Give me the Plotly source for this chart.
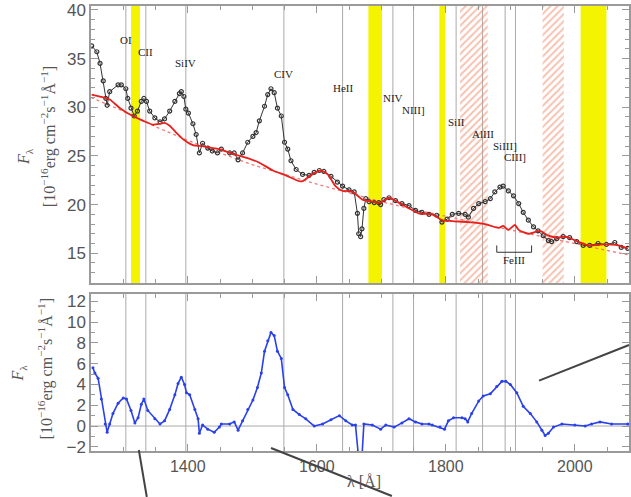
import plotly.graph_objects as go

# ---------------- data ----------------
spec_wl = [1251,1259,1264,1269,1273,1275,1279,1292,1297,1304,1307,1312,1317,1322,1328,1332,1336,1341,1349,1357,
           1364,1372,1380,1387,1390,1394,1397,1401,1408,1413,1418,1423,1431,1438,1446,1452,1465,1472,1478,1485,
           1493,1501,1506,1511,1519,1524,1529,1534,1539,1545,1550,1555,1560,1568,1578,1588,1596,1604,1611,1622,
           1632,1640,1650,1658,1663,1665,1668,1670,1673,1676,1681,1689,1696,1699,1704,1712,1722,1732,1743,1753,
           1763,1774,1786,1794,1802,1810,1820,1830,1835,1843,1851,1861,1869,1876,1884,1889,1897,1905,1913,1920,
           1928,1936,1943,1951,1959,1964,1972,1982,1992,2003,2013,2023,2036,2049,2062,2072,2082]
spec_flux = [36.3,35.7,34.5,32.7,30.9,30.2,31.6,32.3,32.3,31.9,30.9,29.9,29.1,29.6,30.6,30.9,30.6,29.6,28.9,28.5,
             28.8,29.6,30.6,31.4,31.6,31.1,29.8,29.4,28.3,27.2,25.3,26.3,25.8,25.5,25.3,25.7,25.3,25.3,24.6,25.3,
             26.4,27.0,27.4,28.6,30.1,31.3,31.9,31.5,29.9,29.1,26.4,25.7,24.5,23.6,23.1,23.0,23.3,23.5,23.4,22.9,
             22.3,21.9,21.5,21.3,19.1,17.0,16.7,17.5,19.6,20.6,20.3,20.2,20.2,20.0,20.5,20.7,20.4,20.1,19.9,19.4,
             19.2,19.0,18.9,18.2,18.5,19.0,19.1,19.0,18.7,19.6,20.1,20.3,20.6,21.3,21.8,21.9,21.4,20.9,20.1,19.2,
             18.4,17.7,17.3,16.8,16.3,16.2,16.5,16.7,16.6,16.2,15.8,15.8,16.0,15.9,16.1,15.6,15.5]

model_wl = [1251,1264,1279,1295,1315,1331,1346,1357,1364,1372,1382,1395,1408,1423,1439,1449,1470,1496,1511,1532,
            1552,1573,1578,1593,1606,1617,1629,1640,1650,1658,1671,1686,1699,1712,1727,1743,1758,1779,1794,1810,
            1835,1861,1882,1889,1897,1907,1913,1928,1946,1959,1974,1985,2005,2021,2046,2067,2082]
model_flux = [31.3,31.1,30.8,29.9,29.1,28.6,28.2,28.3,28.4,28.1,27.4,26.6,26.1,26.0,25.8,25.7,25.2,24.7,24.3,23.5,
              23.0,22.4,22.4,23.1,23.5,23.1,21.9,21.4,21.4,21.2,20.5,20.3,20.2,20.7,20.2,19.6,19.1,19.0,18.4,18.3,
              18.2,18.0,17.6,17.8,17.4,17.9,17.4,17.0,17.3,16.8,16.6,16.7,16.2,15.8,15.9,15.8,15.5]

pl_wl = [1250,1300,1350,1400,1450,1500,1550,1600,1650,1700,1750,1800,1850,1900,1950,2000,2050,2085]
pl_flux = [31.0,29.6,28.0,26.6,25.3,24.1,23.1,22.1,21.2,20.3,19.5,18.8,18.1,17.4,16.7,16.0,15.3,14.8]

res_wl = [1253,1256,1261,1266,1272,1275,1279,1284,1292,1300,1305,1312,1318,1323,1328,1332,1338,1349,1357,1364,
          1372,1380,1385,1390,1395,1398,1403,1411,1416,1418,1423,1431,1441,1449,1452,1465,1472,1478,1485,1493,
          1501,1508,1514,1519,1524,1529,1534,1539,1545,1550,1555,1563,1573,1583,1596,1609,1622,1635,1645,1655,
          1660,1663,1666,1670,1673,1686,1699,1707,1720,1732,1743,1753,1763,1774,1779,1791,1798,1804,1812,1825,
          1830,1834,1840,1851,1858,1869,1879,1887,1893,1900,1910,1920,1931,1941,1949,1954,1959,1967,1980,2000,
          2016,2026,2039,2057,2082]
res_flux = [5.6,5.1,4.6,2.6,0.2,-0.6,0.2,1.2,2.2,2.7,2.6,1.5,0.3,0.8,2.1,2.6,1.5,0.7,0.2,0.5,
            1.6,3.0,4.1,4.7,4.0,3.2,3.0,1.6,0.7,-0.7,0.1,-0.3,-0.6,-0.1,0.2,0.2,0.4,-0.4,0.5,1.6,
            2.5,3.7,5.1,7.2,8.2,9.0,8.7,7.2,6.5,3.7,3.0,1.6,1.1,0.7,0.0,0.2,0.6,1.0,0.5,0.1,
            0.1,-2.5,-3.8,-3.0,0.2,0.1,-0.3,0.1,-0.1,0.3,0.7,0.4,0.2,0.2,0.1,-0.1,-0.3,0.5,0.8,0.8,
            0.7,0.4,1.2,2.4,2.9,3.1,3.8,4.3,4.3,4.0,3.2,1.9,1.2,0.4,-0.4,-0.9,-0.7,-0.1,0.2,0.1,
            0.0,0.2,0.4,0.2,0.2]

line_names = ["OI", "CII", "SiIV", "CIV", "HeII", "NIV", "NIII]", "SiII", "AlIII", "SiIII]", "CIII]"]
line_wl = [1304, 1335, 1397, 1549, 1640, 1718, 1750, 1816, 1857, 1892, 1908]
label_y = [36.9, 35.7, 34.5, 33.4, 32.0, 30.9, 29.7, 28.5, 27.2, 26.0, 24.9]

yellow_bands = [(1312, 1326), (1680, 1701), (1790, 1799), (2009, 2049)]
hatch_bands = [(1822, 1865), (1950, 1983)]

feiii_range = (1879, 1933)

XR = [1250, 2084]
Y1R = [11.94, 40.4]
Y2R = [-2.4, 12.7]

fig = go.Figure()

# hatched bands (bar trace with pattern)
fig.add_trace(go.Bar(
    x=[(a + b) / 2 for a, b in hatch_bands],
    y=[Y1R[1] - Y1R[0]] * len(hatch_bands),
    base=[Y1R[0]] * len(hatch_bands),
    width=[b - a for a, b in hatch_bands],
    marker=dict(color="rgba(0,0,0,0)", line=dict(width=0),
                pattern=dict(shape="/", fgcolor="#ee8462", bgcolor="rgba(0,0,0,0)",
                             size=5, solidity=0.4)),
    xaxis="x", yaxis="y", hoverinfo="skip", showlegend=False))

fig.add_trace(go.Scatter(x=pl_wl, y=pl_flux, mode="lines",
                         line=dict(color="#f07a7a", width=1.3, dash="dot"),
                         xaxis="x", yaxis="y", showlegend=False))
fig.add_trace(go.Scatter(x=spec_wl, y=spec_flux, mode="lines+markers",
                         line=dict(color="#333333", width=1),
                         marker=dict(symbol="circle-open", size=4, color="#333333", line=dict(width=1.2)),
                         xaxis="x", yaxis="y", showlegend=False))
fig.add_trace(go.Scatter(x=model_wl, y=model_flux, mode="lines",
                         line=dict(color="#e8201c", width=1.8, shape="spline", smoothing=0.6),
                         xaxis="x", yaxis="y", showlegend=False))
fig.add_trace(go.Scatter(x=res_wl, y=res_flux, mode="lines+markers",
                         line=dict(color="#2a40e8", width=1.6),
                         marker=dict(symbol="circle", size=3, color="#2a40e8"),
                         xaxis="x2", yaxis="y2", showlegend=False))

shapes = []
for a, b in yellow_bands:
    shapes.append(dict(type="rect", xref="x", yref="y domain", x0=a, x1=b, y0=0, y1=1,
                       fillcolor="#f4f400", line=dict(width=0), layer="below"))
for w in line_wl:
    for ya in ["y domain", "y2 domain"]:
        xr = "x" if ya == "y domain" else "x2"
        shapes.append(dict(type="line", xref=xr, yref=ya, x0=w, x1=w, y0=0, y1=1,
                           line=dict(color="#aaaaaa", width=1), layer="below"))
shapes.append(dict(type="line", xref="x2 domain", yref="y2", x0=0, x1=1, y0=0, y1=0,
                   line=dict(color="#aaaaaa", width=1), layer="below"))
# FeIII bracket
fa, fb = feiii_range
shapes.append(dict(type="path", xref="x", yref="y",
                   path=f"M {fa},15.8 L {fa},15.1 L {fb},15.1 L {fb},15.8",
                   line=dict(color="#333333", width=1)))
# decorative pointer lines (outside the axes)
for (x0, y0, x1, y1) in [(0.0889, 0.0022, 0.1037, -0.1034),
                         (0.3346, 0.0067, 0.5593, -0.1011),
                         (0.8328, 0.1580, 1.0000, 0.2382)]:
    shapes.append(dict(type="line", xref="paper", yref="paper", x0=x0, y0=y0, x1=x1, y1=y1,
                       line=dict(color="#444444", width=2), layer="above"))

annotations = []
for name, w, yy in zip(line_names, line_wl, label_y):
    annotations.append(dict(text=name, x=w, y=yy, xref="x", yref="y", showarrow=False,
                            font=dict(family="Liberation Serif", size=11, color="#222")))
annotations.append(dict(text="FeIII", x=(fa + fb) / 2, y=14.3, xref="x", yref="y", showarrow=False,
                        font=dict(family="Liberation Serif", size=11, color="#222")))

unit = "[10<sup>−16</sup>erg cm<sup>−2</sup>s<sup>−1</sup>Å<sup>−1</sup>]"
tfont = dict(family="Liberation Serif", size=16, color="#555")
ffont = dict(family="Liberation Serif", size=16, color="#555")
for (txt, xx, yy, fnt) in [("<i>F</i><sub>λ</sub>", -0.1222, 0.661, ffont),
                           (unit, -0.0796, 0.7056, tfont),
                           ("<i>F</i><sub>λ</sub>", -0.135, 0.175, ffont),
                           (unit, -0.085, 0.184, tfont)]:
    annotations.append(dict(text=txt, x=xx, y=yy, xref="paper", yref="paper", textangle=-90,
                            xanchor="center", yanchor="middle", showarrow=False, font=fnt))
annotations.append(dict(text="λ [Å]", x=0.507, y=-0.068, xref="paper", yref="paper", showarrow=False,
                        xanchor="center", yanchor="middle",
                        font=dict(family="Liberation Serif", size=16, color="#555")))

axis_common = dict(showline=True, linecolor="#9a9a9a", linewidth=1.5, mirror="ticks",
                   ticks="inside", ticklen=7, tickcolor="#9a9a9a", tickwidth=1,
                   showgrid=False, zeroline=False, ticklabeloverflow="allow")
yfont = dict(family="Liberation Sans", size=17, color="#555")
xfont = dict(family="Liberation Sans", size=16, color="#555")

fig.update_layout(
    width=631, height=497,
    margin=dict(l=91, r=0, t=6, b=46),
    paper_bgcolor="white", plot_bgcolor="white",
    barmode="overlay", showlegend=False,
    shapes=shapes, annotations=annotations,
    xaxis=dict(domain=[0, 1], anchor="y", range=XR, dtick=200, tick0=1200, showticklabels=False,
               tickfont=xfont,
               minor=dict(dtick=50, ticks="inside", ticklen=4, tickcolor="#9a9a9a"), **axis_common),
    xaxis2=dict(domain=[0, 1], anchor="y2", range=XR, dtick=200, tick0=1200, matches="x",
                tickfont=xfont,
                minor=dict(dtick=50, ticks="inside", ticklen=4, tickcolor="#9a9a9a"), **axis_common),
    yaxis=dict(domain=[0.3775, 1], anchor="x", range=Y1R, dtick=5, tick0=0, tickfont=yfont,
               minor=dict(dtick=1, ticks="inside", ticklen=4, tickcolor="#9a9a9a"), **axis_common),
    yaxis2=dict(domain=[0, 0.3528], anchor="x2", range=Y2R, dtick=2, tick0=0, tickfont=yfont,
                minor=dict(dtick=1, ticks="inside", ticklen=4, tickcolor="#9a9a9a"), **axis_common),
)

fig.write_html("out.html")
